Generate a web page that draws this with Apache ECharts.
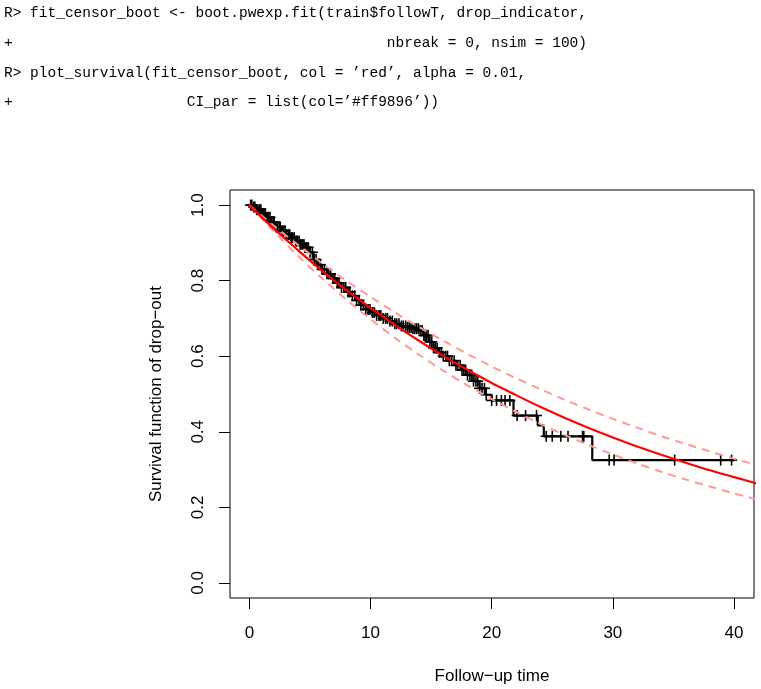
<!DOCTYPE html>
<html lang="en">
<head>
    <meta charset="UTF-8">
    <title>Survival of drop-out</title>
    <script src="https://cdn.jsdelivr.net/npm/echarts@6/dist/echarts.min.js"></script>
    <style>
        body { margin: 0; background: #fff; }
        #main { width: 761px; height: 689px; }
    </style>
</head>
<body>
    <div id="main"></div>
    <script>
        // R session lines shown above the plot
        var codeLines = [
            'R> fit_censor_boot <- boot.pwexp.fit(train$followT, drop_indicator,',
            '+                                           nbreak = 0, nsim = 100)',
            'R> plot_survival(fit_censor_boot, col = \u2019red\u2019, alpha = 0.01,',
            '+                    CI_par = list(col=\u2019#ff9896\u2019))'
        ];

        // Kaplan-Meier steps (time, survival)
        var kmTimes = [0, 0.3, 0.6, 1.0, 1.4, 1.8, 2.2, 2.6, 3.0, 3.4, 3.8, 4.2, 4.6, 5.0, 5.3, 5.6,
            6.0, 6.4, 6.8, 7.2, 7.6, 8.0, 8.4, 8.8, 9.2, 9.6, 10.0, 10.5, 11.0, 11.5, 12.0, 12.5,
            13.0, 13.5, 14.0, 14.4, 14.8, 15.2, 15.6, 16.0, 16.5, 17.0, 17.5, 18.0, 18.5, 19.0,
            19.5, 20.0, 21.8, 23.8, 24.3, 28.3, 40.05];
        var kmSurv = [1.000, 0.995, 0.988, 0.978, 0.968, 0.955, 0.942, 0.932, 0.922, 0.914, 0.905,
            0.896, 0.888, 0.875, 0.856, 0.842, 0.830, 0.818, 0.806, 0.794, 0.782, 0.770, 0.760,
            0.748, 0.735, 0.724, 0.716, 0.708, 0.700, 0.693, 0.686, 0.680, 0.676, 0.673, 0.668,
            0.655, 0.638, 0.622, 0.610, 0.600, 0.588, 0.576, 0.563, 0.550, 0.534, 0.515, 0.498,
            0.483, 0.443, 0.417, 0.388, 0.325, 0.325];

        // censored follow-up times ("+" marks)
        var censorTimes = [0.1, 0.2, 0.35, 0.45, 0.6, 0.7, 0.85, 0.95, 1.1, 1.2, 1.3, 1.45, 1.55,
            1.7, 1.8, 1.95, 2.05, 2.2, 2.3, 2.45, 2.55, 2.7, 2.8, 2.95, 3.05, 3.2, 3.3, 3.45, 3.55,
            3.7, 3.85, 3.95, 4.1, 4.2, 4.35, 4.5, 4.6, 4.75, 4.85, 5.0, 5.2, 5.35, 5.5, 5.7, 5.85,
            6.0, 6.2, 6.4, 6.55, 6.7, 6.9, 7.05, 7.25, 7.4, 7.6, 7.8, 7.95, 8.15, 8.3, 8.5, 8.7,
            8.85, 9.05, 9.2, 9.4, 9.6, 9.8, 9.95, 10.15, 10.3, 10.5, 10.7, 10.85, 11.05, 11.25,
            11.4, 11.6, 11.8, 12.0, 12.15, 12.35, 12.55, 12.7, 12.9, 13.05, 13.2, 13.35, 13.5,
            13.65, 13.8, 13.95, 14.1, 14.25, 14.4, 14.5, 14.6, 14.75, 14.9, 15.05, 15.2, 15.35,
            15.5, 15.7, 15.85, 16.0, 16.2, 16.35, 16.5, 16.7, 16.9, 17.05, 17.2, 17.4, 17.55,
            17.7, 17.85, 18.0, 18.2, 18.35, 18.5, 18.7, 18.85, 19.0, 19.2, 19.4, 19.55, 20.0,
            20.4, 20.8, 21.1, 21.5, 22.1, 22.8, 23.7, 24.5, 25.0, 25.7, 26.3, 27.5, 27.6, 29.7,
            30.1, 35.1, 38.9, 39.8];

        // fitted exponential and its bootstrap band, read every 2 time units
        var fitTimes = [0, 2, 4, 6, 8, 10, 12, 14, 16, 18, 20, 22, 24, 26, 28, 30, 32, 34, 36, 38, 40, 42];
        var fitSurv = [1.000, 0.938, 0.881, 0.826, 0.775, 0.728, 0.683, 0.641, 0.601, 0.564, 0.529,
            0.497, 0.466, 0.437, 0.410, 0.385, 0.361, 0.339, 0.318, 0.298, 0.280, 0.262];
        var upperSurv = [1.000, 0.946, 0.895, 0.846, 0.800, 0.757, 0.716, 0.677, 0.641, 0.606, 0.573,
            0.542, 0.513, 0.485, 0.459, 0.434, 0.411, 0.388, 0.368, 0.348, 0.329, 0.311];
        var lowerSurv = [1.000, 0.931, 0.866, 0.806, 0.750, 0.698, 0.649, 0.604, 0.562, 0.523, 0.487,
            0.453, 0.421, 0.392, 0.365, 0.340, 0.316, 0.294, 0.274, 0.255, 0.237, 0.220];

        var xTicks = [0, 10, 20, 30, 40];
        var yTicks = [0, 0.2, 0.4, 0.6, 0.8, 1.0];

        function pairs(xs, ys) {
            return xs.map(function (x, i) { return [x, ys[i]]; });
        }
        function survAt(t) {
            var s = kmSurv[0];
            for (var i = 0; i < kmTimes.length; i++) {
                if (kmTimes[i] <= t) s = kmSurv[i];
            }
            return s;
        }

        var chart = echarts.init(document.getElementById('main'));
        var font = '"Liberation Sans", Arial, sans-serif';

        var option = {
            animation: false,
            backgroundColor: '#fff',
            graphic: codeLines.map(function (line, i) {
                return {
                    type: 'text',
                    left: 4,
                    top: 6 + i * 29.6,
                    style: {
                        text: line,
                        font: '14.5px "Liberation Mono", monospace',
                        fill: '#000'
                    }
                };
            }),
            grid: {
                left: 230,
                top: 190,
                width: 524,
                height: 408,
                show: true,
                borderColor: '#000',
                borderWidth: 1,
                outerBoundsMode: 'none'
            },
            xAxis: {
                type: 'value',
                min: -1.6,
                max: 41.65,
                splitLine: { show: false },
                axisLine: { show: false, onZero: false },
                axisTick: {
                    show: true,
                    length: 11,
                    customValues: xTicks,
                    lineStyle: { color: '#000' }
                },
                axisLabel: {
                    customValues: xTicks,
                    margin: 27,
                    fontSize: 17,
                    color: '#000',
                    fontFamily: font
                },
                name: 'Follow\u2212up time',
                nameLocation: 'middle',
                nameGap: 70,
                nameTextStyle: { fontSize: 17, color: '#000', fontFamily: font }
            },
            yAxis: {
                type: 'value',
                min: -0.04,
                max: 1.04,
                splitLine: { show: false },
                axisLine: { show: false, onZero: false },
                axisTick: {
                    show: true,
                    length: 11,
                    customValues: yTicks,
                    lineStyle: { color: '#000' }
                },
                axisLabel: {
                    customValues: yTicks,
                    rotate: 90,
                    margin: 23,
                    fontSize: 17,
                    color: '#000',
                    fontFamily: font,
                    formatter: function (v) { return v.toFixed(1); }
                },
                name: 'Survival function of drop\u2212out',
                nameLocation: 'middle',
                nameGap: 65,
                nameTextStyle: { fontSize: 17, color: '#000', fontFamily: font }
            },
            series: [
                {
                    name: 'KM',
                    type: 'line',
                    step: 'end',
                    data: pairs(kmTimes, kmSurv),
                    showSymbol: false,
                    lineStyle: { color: '#000', width: 2.2 },
                    z: 2
                },
                {
                    name: 'censored',
                    type: 'custom',
                    data: censorTimes.map(function (t) { return [t, survAt(t)]; }),
                    renderItem: function (params, api) {
                        var p = api.coord([api.value(0), api.value(1)]);
                        var h = 5.5;
                        var st = { stroke: '#000', lineWidth: 1.6 };
                        return {
                            type: 'group',
                            children: [
                                { type: 'line', shape: { x1: p[0] - h, y1: p[1], x2: p[0] + h, y2: p[1] }, style: st },
                                { type: 'line', shape: { x1: p[0], y1: p[1] - h, x2: p[0], y2: p[1] + h }, style: st }
                            ]
                        };
                    },
                    z: 3
                },
                {
                    name: 'upper',
                    type: 'line',
                    smooth: 0.3,
                    data: pairs(fitTimes, upperSurv),
                    showSymbol: false,
                    lineStyle: { color: '#ff9896', width: 2, type: [8, 6] },
                    z: 4
                },
                {
                    name: 'lower',
                    type: 'line',
                    smooth: 0.3,
                    data: pairs(fitTimes, lowerSurv),
                    showSymbol: false,
                    lineStyle: { color: '#ff9896', width: 2, type: [8, 6] },
                    z: 4
                },
                {
                    name: 'fit',
                    type: 'line',
                    smooth: 0.3,
                    data: pairs(fitTimes, fitSurv),
                    showSymbol: false,
                    lineStyle: { color: '#ff0000', width: 2.2 },
                    z: 5
                }
            ]
        };

        chart.setOption(option);
    </script>
</body>
</html>
